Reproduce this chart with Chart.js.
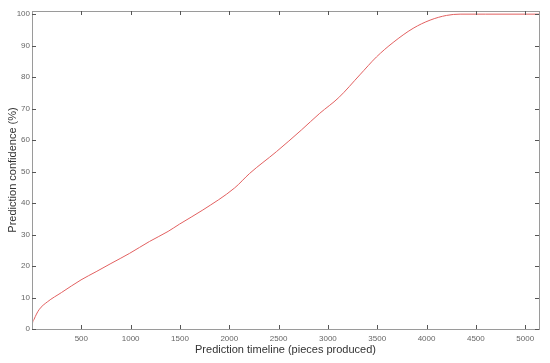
<!DOCTYPE html>
<html>
<head>
<meta charset="utf-8">
<script src="https://cdn.jsdelivr.net/npm/chart.js@4/dist/chart.umd.min.js"></script>
<style>
html,body{margin:0;padding:0;background:#fff;}
#wrap{width:550px;height:363px;}
</style>
</head>
<body>
<div id="wrap"><canvas id="c" width="550" height="363"></canvas></div>
<script>
// Data
const piecesProduced = [0, 3, 20, 71, 155, 300, 497, 650, 800, 988, 1191, 1380, 1495, 1732, 2054, 2206, 2477, 2731, 2917, 3110, 3323, 3492, 3661, 3864, 4036, 4203, 4340, 4600, 5140];
const confidence    = [0, 1.4, 3.0, 6.1, 8.6, 11.6, 15.6, 18.2, 20.8, 24.0, 27.8, 31.0, 33.3, 37.8, 44.8, 49.4, 56.3, 63.2, 68.5, 73.5, 80.7, 86.4, 91.0, 95.5, 98.1, 99.6, 100, 100, 100];
const xTickValues = [500, 1000, 1500, 2000, 2500, 3000, 3500, 4000, 4500, 5000];
const yTickValues = [0, 10, 20, 30, 40, 50, 60, 70, 80, 90, 100];

const points = piecesProduced.map((x, i) => ({x: x, y: confidence[i]}));

const boxTicks = {
  id: 'boxTicks',
  afterDraw(chart) {
    const {ctx, chartArea: a, scales} = chart;
    ctx.save();
    ctx.strokeStyle = '#9a9a9a';
    ctx.lineWidth = 1;
    ctx.strokeRect(Math.round(a.left) + 0.5, Math.round(a.top) + 0.5, Math.round(a.right - a.left), Math.round(a.bottom - a.top));
    const L = 4;
    ctx.strokeStyle = '#555';
    ctx.beginPath();
    xTickValues.forEach(v => {
      const px = Math.round(scales.x.getPixelForValue(v)) + 0.5;
      ctx.moveTo(px, a.bottom); ctx.lineTo(px, a.bottom - L);
      ctx.moveTo(px, a.top); ctx.lineTo(px, a.top + L);
    });
    yTickValues.forEach(v => {
      const py = Math.round(scales.y.getPixelForValue(v)) + 0.5;
      ctx.moveTo(a.left, py); ctx.lineTo(a.left + L, py);
      ctx.moveTo(a.right, py); ctx.lineTo(a.right - L, py);
    });
    ctx.stroke();
    ctx.restore();
  }
};

new Chart(document.getElementById('c'), {
  type: 'line',
  data: {
    datasets: [{
      data: points,
      borderColor: 'rgb(226,96,96)',
      borderWidth: 1,
      pointRadius: 0,
      cubicInterpolationMode: 'monotone',
      fill: false
    }]
  },
  options: {
    responsive: false,
    animation: false,
    devicePixelRatio: 1,
    layout: {padding: {top: 11, right: 11, left: 0, bottom: 0}},
    plugins: {legend: {display: false}, tooltip: {enabled: false}},
    scales: {
      x: {
        type: 'linear',
        min: 0, max: 5140,
        afterBuildTicks(s) { s.ticks = xTickValues.map(v => ({value: v})); },
        afterFit(s) { s.height = 34; },
        grid: {display: false, drawTicks: false},
        border: {display: false},
        ticks: {color: '#666', font: {family: 'Liberation Sans', size: 8}, padding: 5, maxRotation: 0,
                callback: v => String(v)},
        title: {display: true, text: 'Prediction timeline (pieces produced)', color: '#333',
                font: {family: 'Liberation Sans', size: 11}, padding: {top: 0, bottom: 6.4}}
      },
      y: {
        type: 'linear',
        min: 0, max: 101,
        afterBuildTicks(s) { s.ticks = yTickValues.map(v => ({value: v})); },
        afterFit(s) { s.width = 32; },
        grid: {display: false, drawTicks: false},
        border: {display: false},
        ticks: {color: '#666', font: {family: 'Liberation Sans', size: 8}, padding: 2,
                callback: v => String(v)},
        title: {display: true, text: 'Prediction confidence (%)', color: '#333',
                font: {family: 'Liberation Sans', size: 11}, padding: {top: 6.5, bottom: 0}}
      }
    }
  },
  plugins: [boxTicks]
});
</script>
</body>
</html>
